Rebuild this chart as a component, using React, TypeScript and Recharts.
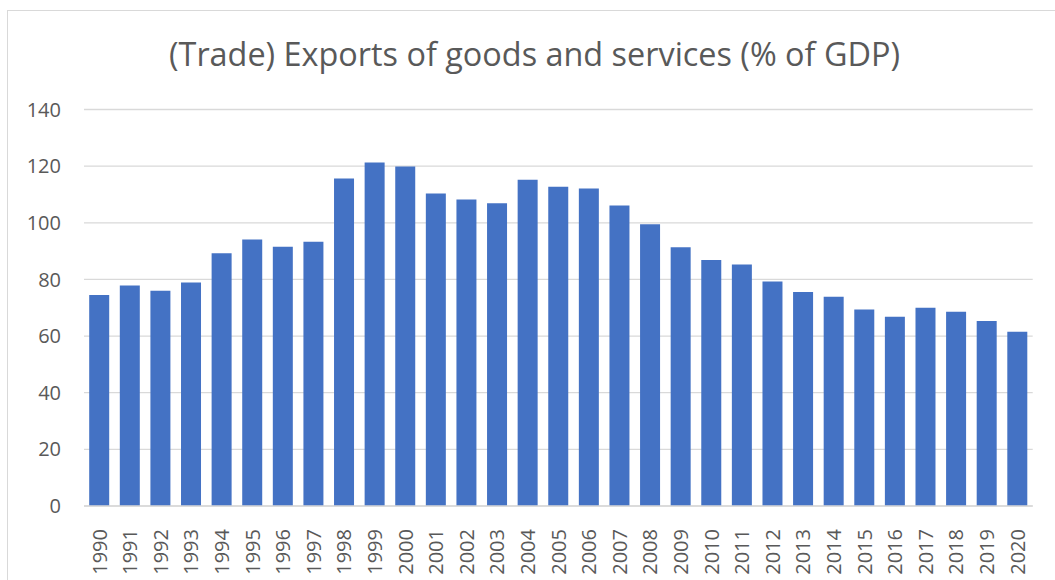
import React from "react";
import { BarChart, Bar, XAxis, YAxis, CartesianGrid } from "recharts";

const years = [
  "1990", "1991", "1992", "1993", "1994", "1995", "1996", "1997", "1998", "1999",
  "2000", "2001", "2002", "2003", "2004", "2005", "2006", "2007", "2008", "2009",
  "2010", "2011", "2012", "2013", "2014", "2015", "2016", "2017", "2018", "2019", "2020",
];
const exportsPct = [
  74.5, 77.9, 76.0, 78.9, 89.2, 94.1, 91.5, 93.3, 115.6, 121.3,
  119.9, 110.3, 108.2, 106.9, 115.2, 112.7, 112.1, 106.1, 99.5, 91.4,
  86.9, 85.3, 79.3, 75.6, 73.9, 69.4, 66.8, 70.0, 68.6, 65.3, 61.5,
];
const yTicks = [0, 20, 40, 60, 80, 100, 120, 140];
const title = "(Trade) Exports of goods and services (% of GDP)";

const data = years.map((y, i) => ({ year: y, value: exportsPct[i] }));

const FONT = "'Open Sans', sans-serif";
const TEXT_COLOR = "#595959";

const XTick = (props: any) => {
  const { x, y, payload } = props;
  return (
    <text
      transform={`translate(${x},${y + 15}) rotate(-90)`}
      textAnchor="end"
      dy="0.36em"
      fill={TEXT_COLOR}
      fontFamily={FONT}
      fontSize={20}
    >
      {payload.value}
    </text>
  );
};

export default function App() {
  return (
    <div
      style={{
        position: "absolute",
        left: 0,
        top: 0,
        width: 1055,
        height: 580,
        overflow: "hidden",
        background: "#fff",
      }}
    >
      <div
        style={{
          position: "absolute",
          left: 7,
          top: 10,
          width: 1100,
          height: 700,
          border: "1px solid #d9d9d9",
          boxSizing: "border-box",
        }}
      />
      <svg
        width={1055}
        height={90}
        style={{ position: "absolute", left: 0, top: 0 }}
      >
        <text
          x={534.5}
          y={66}
          textAnchor="middle"
          fill={TEXT_COLOR}
          fontFamily={FONT}
          fontSize={32.4}
        >
          {title}
        </text>
      </svg>
      <div style={{ position: "absolute", left: 0, top: 0 }}>
        <BarChart
          width={1055}
          height={580}
          data={data}
          margin={{ top: 109.5, right: 22.3, bottom: 0, left: 0 }}
          barCategoryGap="17%"
        >
          <CartesianGrid vertical={false} stroke="#d9d9d9" strokeWidth={1.3} />
          <XAxis
            dataKey="year"
            height={74}
            interval={0}
            tickLine={false}
            axisLine={{ stroke: "#d9d9d9", strokeWidth: 1.3 }}
            tick={<XTick />}
          />
          <YAxis
            width={84}
            domain={[0, 140]}
            ticks={yTicks}
            axisLine={false}
            tickLine={false}
            tickSize={0}
            tickMargin={23}
            tick={{ fill: TEXT_COLOR, fontFamily: FONT, fontSize: 20 }}
          />
          <Bar dataKey="value" fill="#4472C4" isAnimationActive={false} />
        </BarChart>
      </div>
    </div>
  );
}
